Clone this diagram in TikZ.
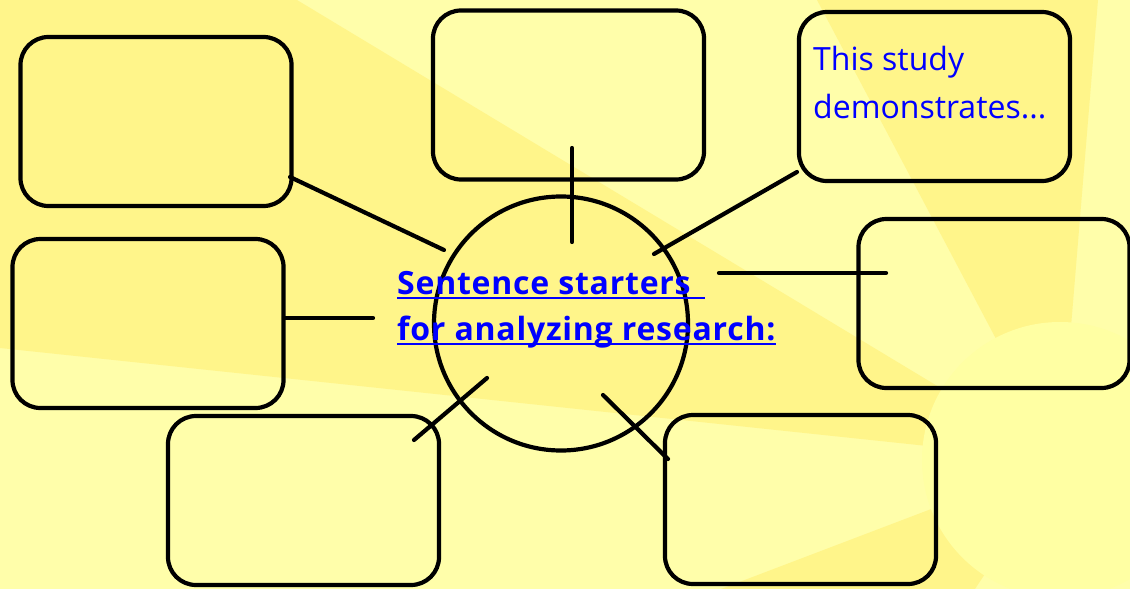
\documentclass[tikz,border=0pt]{standalone}
\usepackage{fontspec}
\setmainfont{Open Sans}

\definecolor{rayLight}{RGB}{255,254,170}
\definecolor{rayDark}{RGB}{255,245,138}
\definecolor{sunColor}{RGB}{255,255,163}
\definecolor{textBlue}{RGB}{0,0,255}

\tikzset{
  box/.style={draw=black, line width=4.2pt, rounded corners=28pt, inner sep=0pt,
    minimum width=169.4pt, minimum height=169pt, xscale=1.6},
  hub/.style={circle, draw=black, line width=4.2pt, inner sep=0pt, minimum size=254pt},
  link/.style={draw=black, line width=4.2pt, line cap=round},
  head/.style={text=textBlue, inner sep=0pt, anchor=base west,
    font=\fontsize{32}{38}\bfseries\addfontfeature{LetterSpace=2.4}},
  note/.style={text=textBlue, inner sep=0pt, anchor=base west, font=\fontsize{32}{38}\selectfont},
  uline/.style={draw=textBlue, line width=2pt},
}

\begin{document}
\begin{tikzpicture}[x=1pt,y=-1pt]
\useasboundingbox (0,0) rectangle (1130,589);
\begin{scope}
  \clip (0,0) rectangle (1130,589);
  \fill[rayLight] (0,0) rectangle (1130,589);
  \fill[rayDark] (1060,460) -- (817,0) -- (1098,0) -- cycle;
  \fill[rayDark] (1060,460) -- (297,0) -- (0,0) -- (0,348) -- cycle;
  \fill[rayDark] (1060,460) -- (721,589) -- (975,589) -- cycle;
  \fill[sunColor] (1060,460) circle (138pt);
\end{scope}
\foreach \n/\x/\y in {b1/156/121.5, b2/568.5/95, b3/934.5/96.5, b4/994/303.5,
                      b5/148/323.5, b6/303.5/500.5, b7/800.5/499.5}
  \node[box] (\n) at (\x,\y) {};
\node[hub] (hub) at (561,323.5) {};
\foreach \n/\x/\y in {l1a/290/177, l1b/444/250, l2a/572/148, l2b/572/242,
                      l3a/797/172, l3b/654/254, l4a/719/273, l4b/886/273,
                      l5a/284/318, l5b/373/318, l6a/487/378, l6b/414/440,
                      l7a/603/395, l7b/668/459}
  \coordinate (\n) at (\x,\y);
\foreach \a/\b in {l1a/l1b, l2a/l2b, l3a/l3b, l4a/l4b, l5a/l5b, l6a/l6b, l7a/l7b}
  \draw[link] (\a) -- (\b);
\node[head] (head1) at (397,294) {Sentence starters\kern14pt};
\node[head] (head2) at (397,340) {for analyzing research:};
\foreach \h in {head1,head2}
  \draw[uline] ([yshift=-3.5pt]\h.base west) -- ([yshift=-3.5pt]\h.base east);
\node[note] (note1) at (813,70) {This study};
\node[note] (note2) at (813,118) {demonstrates...};
\end{tikzpicture}
\end{document}
